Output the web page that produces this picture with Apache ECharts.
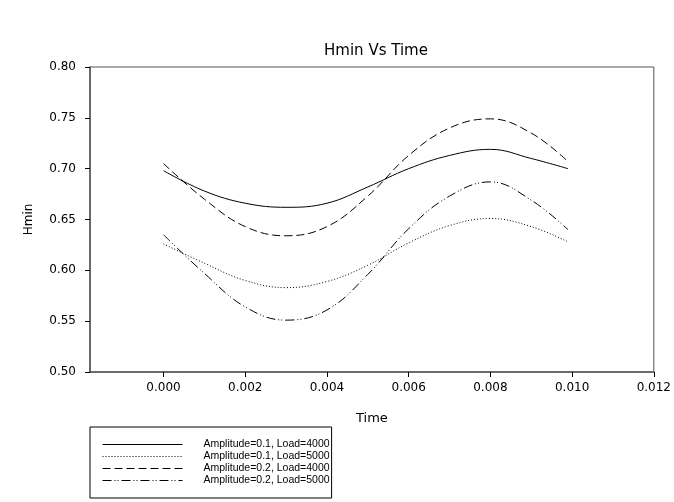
<!DOCTYPE html>
<html>
<head>
<meta charset="utf-8">
<script src="https://cdn.jsdelivr.net/npm/echarts@6/dist/echarts.min.js"></script>
<style>
  html, body { margin: 0; padding: 0; background: #fff; }
  #main { width: 674px; height: 502px; }
</style>
</head>
<body>
<div id="main"></div>
<script>
// time values (x)
const times = [0, 0.001, 0.002, 0.003, 0.004, 0.005, 0.006, 0.007, 0.008, 0.009, 0.0099];
// Hmin values
const a1L4000 = [0.698, 0.678, 0.666, 0.662, 0.666, 0.682, 0.700, 0.713, 0.719, 0.710, 0.700];
const a1L5000 = [0.626, 0.607, 0.590, 0.583, 0.589, 0.605, 0.627, 0.644, 0.651, 0.643, 0.628];
const a2L4000 = [0.705, 0.670, 0.643, 0.634, 0.643, 0.673, 0.713, 0.740, 0.749, 0.735, 0.707];
const a2L5000 = [0.635, 0.597, 0.564, 0.551, 0.561, 0.596, 0.641, 0.673, 0.687, 0.669, 0.640];
const seriesNames = [
  "Amplitude=0.1, Load=4000",
  "Amplitude=0.1, Load=5000",
  "Amplitude=0.2, Load=4000",
  "Amplitude=0.2, Load=5000"
];
const xTicks = [0, 0.002, 0.004, 0.006, 0.008, 0.010, 0.012];

const font = "Liberation Sans, Arial, sans-serif";
const tickFont = "DejaVu Sans, sans-serif";
const myChart = echarts.init(document.getElementById("main"));

function makeSeries(name, vals, dash) {
  return {
    name: name,
    type: "line",
    smooth: 0.4,
    symbol: "none",
    data: times.map((t, i) => [t, vals[i]]),
    itemStyle: { color: "#000" },
    lineStyle: { color: "#000", width: 1, type: dash },
    emphasis: { disabled: true }
  };
}

const option = {
  animation: false,
  backgroundColor: "#fff",
  title: {
    text: "Hmin Vs Time",
    left: 371,
    textAlign: "center",
    top: 39,
    textStyle: { fontFamily: tickFont, fontSize: 15, fontWeight: "normal", color: "#000" }
  },
  grid: {
    left: 90,
    right: 20,
    top: 67,
    bottom: 130,
    show: true,
    borderColor: "#555",
    borderWidth: 1
  },
  xAxis: {
    type: "value",
    min: -0.0018,
    max: 0.012,
    name: "Time",
    nameLocation: "middle",
    nameGap: 40,
    nameTextStyle: { fontFamily: tickFont, fontSize: 13, color: "#000" },
    axisLine: { onZero: false, lineStyle: { color: "#555", width: 1.5 } },
    axisTick: { show: true, length: 5, inside: false, customValues: xTicks, lineStyle: { color: "#000" } },
    axisLabel: {
      customValues: xTicks,
      formatter: (v) => v.toFixed(3),
      fontFamily: tickFont,
      fontSize: 12,
      color: "#000",
      margin: 10
    },
    splitLine: { show: false }
  },
  yAxis: {
    type: "value",
    min: 0.5,
    max: 0.8,
    interval: 0.05,
    name: "Hmin",
    nameLocation: "middle",
    nameGap: 55,
    nameRotate: 90,
    nameTextStyle: { fontFamily: tickFont, fontSize: 12, color: "#000" },
    axisLine: { show: true, onZero: false, lineStyle: { color: "#555", width: 1.5 } },
    axisTick: { show: true, length: 5, inside: false, lineStyle: { color: "#000" } },
    axisLabel: {
      formatter: (v) => v.toFixed(2),
      fontFamily: tickFont,
      fontSize: 12,
      color: "#000",
      margin: 14
    },
    splitLine: { show: false }
  },
  legend: {
    orient: "vertical",
    left: 90,
    top: 427,
    padding: [12, 2, 12, 12],
    itemGap: 1,
    itemWidth: 80,
    itemHeight: 10,
    borderColor: "#000",
    borderWidth: 1,
    data: seriesNames,
    itemStyle: { opacity: 0 },
    lineStyle: { width: 1 },
    textStyle: { fontFamily: font, fontSize: 10.5, color: "#000", padding: [0, 0, 0, 16] }
  },
  series: [
    makeSeries(seriesNames[0], a1L4000, "solid"),
    makeSeries(seriesNames[1], a1L5000, [1, 2]),
    makeSeries(seriesNames[2], a2L4000, [8, 4]),
    makeSeries(seriesNames[3], a2L5000, [9, 3, 1, 2, 1, 3])
  ]
};

myChart.setOption(option);
</script>
</body>
</html>
